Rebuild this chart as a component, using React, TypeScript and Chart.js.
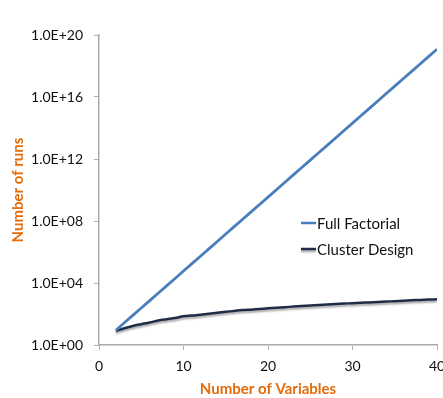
import React, { useEffect, useRef } from "react";
import { Chart, registerables } from "chart.js";

Chart.register(...registerables);

const variables = [2, 3, 4, 5, 6, 7, 8, 9, 10, 11, 12, 13, 14, 15, 16, 17, 18, 19, 20, 21, 22, 23, 24, 25, 26, 27, 28, 29, 30, 31, 32, 33, 34, 35, 36, 37, 38, 39, 40];

const fullFactorial = [
  9, 27, 81, 243, 729, 2187, 6561, 19683, 59049, 177147, 531441, 1594323, 4782969,
  14348907, 43046721, 129140163, 387420489, 1162261467, 3486784401, 10460353203,
  31381059609, 94143178827, 282429536481, 847288609443, 2541865828329, 7625597484987,
  22876792454961, 68630377364883, 205891132094649, 617673396283947, 1853020188851841,
  5559060566555523, 16677181699666569, 5.0031545e16, 1.5009464e17, 4.5028391e17,
  1.3508517e18, 4.0525552e18, 1.2157665e19,
];

const clusterDesign = [
  8, 12, 17, 22, 28, 38, 46, 55, 71, 79, 91, 105, 120, 138, 158, 178, 191, 209, 234,
  257, 275, 302, 324, 355, 380, 407, 437, 468, 501, 525, 562, 603, 631, 676, 724, 776,
  813, 851, 891,
];

const seriesNames = ["Full Factorial", "Cluster Design"];
const seriesColors = ["#4a7ebb", "#1f2c47"];

const yTickValues = [1, 1e4, 1e8, 1e12, 1e16, 1e20];
const yTickLabels = ["1.0E+00", "1.0E+04", "1.0E+08", "1.0E+12", "1.0E+16", "1.0E+20"];
const xTickValues = [0, 10, 20, 30, 40];

const FONT = "Lato, 'Liberation Sans', sans-serif";
const ORANGE = "#e46c0a";

const shadowPlugin = {
  id: "shadowPlugin",
  beforeDatasetDraw(chart: any, args: any) {
    if (args.index === 1) {
      const ctx = chart.ctx;
      ctx.save();
      ctx.shadowColor = "rgba(0,0,0,0.35)";
      ctx.shadowOffsetX = 0;
      ctx.shadowOffsetY = 2;
      ctx.shadowBlur = 2;
    }
  },
  afterDatasetDraw(chart: any, args: any) {
    if (args.index === 1) {
      chart.ctx.restore();
    }
  },
};

const legendPlugin = {
  id: "insideLegend",
  afterDraw(chart: any) {
    const ctx = chart.ctx;
    const x0 = 301;
    const ys = [223, 249];
    ctx.save();
    seriesNames.forEach((name, i) => {
      const y = ys[i];
      if (i === 1) {
        ctx.shadowColor = "rgba(0,0,0,0.35)";
        ctx.shadowOffsetY = 2;
        ctx.shadowBlur = 2;
      }
      ctx.strokeStyle = seriesColors[i];
      ctx.lineWidth = 2.5;
      ctx.beginPath();
      ctx.moveTo(x0, y);
      ctx.lineTo(x0 + 15, y);
      ctx.stroke();
      ctx.shadowColor = "transparent";
      ctx.fillStyle = "#111111";
      ctx.font = `15px ${FONT}`;
      ctx.textBaseline = "middle";
      ctx.textAlign = "left";
      ctx.fillText(name, x0 + 16, y + 1);
    });
    ctx.restore();
  },
};

export default function App() {
  const ref = useRef<HTMLCanvasElement | null>(null);

  useEffect(() => {
    document.body.style.margin = "0";
    if (!ref.current) return;
    const chart = new Chart(ref.current, {
      type: "line",
      data: {
        datasets: [
          {
            label: seriesNames[0],
            data: variables.map((v, i) => ({ x: v, y: fullFactorial[i] })),
            borderColor: seriesColors[0],
            borderWidth: 2.8,
            pointRadius: 0,
            tension: 0,
          },
          {
            label: seriesNames[1],
            data: variables.map((v, i) => ({ x: v, y: clusterDesign[i] })),
            borderColor: seriesColors[1],
            borderWidth: 2.5,
            pointRadius: 0,
            tension: 0.3,
          },
        ],
      },
      options: {
        responsive: false,
        animation: false,
        layout: { padding: { top: 35, right: 13, left: 0, bottom: 0 } },
        plugins: {
          legend: { display: false },
          tooltip: { enabled: false },
        },
        scales: {
          x: {
            type: "linear",
            min: 0,
            max: 40,
            afterBuildTicks: (scale: any) => {
              scale.ticks = xTickValues.map((v) => ({ value: v }));
            },
            afterFit: (scale: any) => {
              scale.height = 53;
              scale.paddingRight = 0;
              scale.paddingLeft = 0;
            },
            ticks: {
              color: "#111111",
              font: { family: FONT, size: 14 },
              padding: 8,
              maxRotation: 0,
              autoSkip: false,
            },
            grid: {
              drawOnChartArea: false,
              drawTicks: true,
              tickLength: 5,
              color: "#b0b0b0",
            },
            border: { color: "#aaaaaa", width: 1.5 },
            title: {
              display: true,
              text: "Number of Variables",
              color: ORANGE,
              font: { family: FONT, size: 15, weight: "bold" },
              padding: { top: 0, bottom: 0 },
            },
          },
          y: {
            type: "logarithmic",
            min: 1,
            max: 1e20,
            afterBuildTicks: (scale: any) => {
              scale.ticks = yTickValues.map((v) => ({ value: v }));
            },
            afterFit: (scale: any) => {
              scale.width = 99;
            },
            ticks: {
              color: "#111111",
              font: { family: FONT, size: 14 },
              padding: 11,
              autoSkip: false,
              callback: (value: any) => {
                const idx = yTickValues.indexOf(Number(value));
                return idx >= 0 ? yTickLabels[idx] : "";
              },
            },
            grid: {
              drawOnChartArea: false,
              drawTicks: true,
              tickLength: 5,
              color: "#b0b0b0",
            },
            border: { color: "#aaaaaa", width: 1.5 },
            title: {
              display: true,
              text: "Number of runs",
              color: ORANGE,
              font: { family: FONT, size: 15, weight: "bold" },
              padding: { top: 9, bottom: 0 },
            },
          },
        },
      },
      plugins: [shadowPlugin, legendPlugin],
    } as any);
    return () => chart.destroy();
  }, []);

  return (
    <div style={{ position: "relative", width: 443, height: 398, overflow: "hidden", background: "#ffffff" }}>
      <canvas ref={ref} width={450} height={398} style={{ display: "block" }} />
    </div>
  );
}
